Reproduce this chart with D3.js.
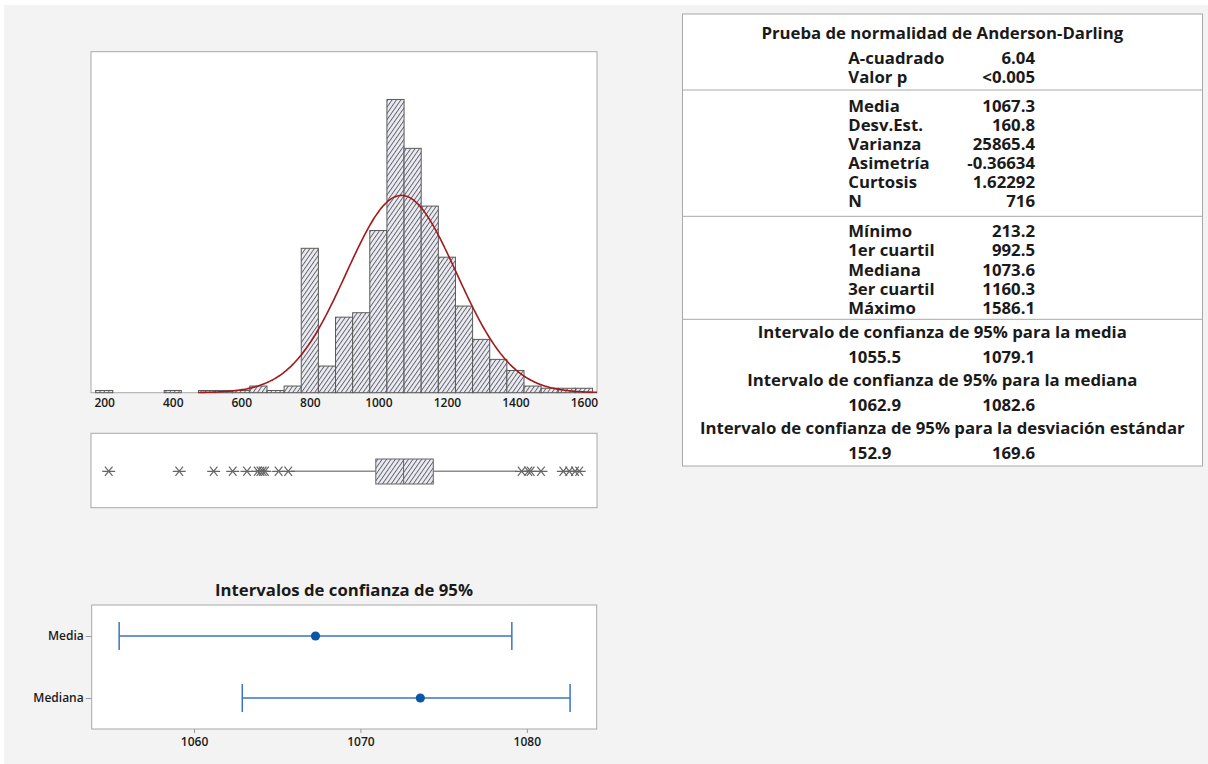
<!DOCTYPE html>
<html><head><meta charset="utf-8">
<script src="https://cdn.jsdelivr.net/npm/d3@7"></script>
<style>
body{margin:0;background:#fff}
svg{display:block}
text{font-family:"Open Sans","Noto Sans",sans-serif;fill:#1a1a1a}
</style>
</head><body>
<svg id="c" width="1208" height="764"></svg>
<script>
// ---------- DATA ----------
const binCenters = [200,250,300,350,400,450,500,550,600,650,700,750,800,850,900,950,1000,1050,1100,1150,1200,1250,1300,1350,1400,1450,1500,1550,1600];
const binCounts  = [1,0,0,0,1,0,1,1,1,3,1,3,65,12,34,36,73,132,110,84,61,39,24,15,10,3,2,2,2];
const binWidth = 50;
const histTicks = [200,400,600,800,1000,1200,1400,1600];
const fitMean = 1067.3, fitSd = 160.8, sampleN = 716;

const boxQuartiles = [992.5, 1073.6, 1160.3];
const boxWhiskers  = [745, 1404];
const lowOutliers  = [213.2, 419, 519.5, 575, 616.7, 648, 656, 662.5, 669, 709, 737];
const highOutliers = [1418, 1437.5, 1444.5, 1474.5, 1539.7, 1557, 1574, 1586.1];

const ciTitle = "Intervalos de confianza de 95%";
const ciRows  = ["Media","Mediana"];
const ciLow   = [1055.5, 1062.9];
const ciHigh  = [1079.1, 1082.6];
const ciPoint = [1067.3, 1073.6];
const ciTicks = [1060,1070,1080];

const tblTitle = "Prueba de normalidad de Anderson-Darling";
const adLabels = ["A-cuadrado","Valor p"];
const adValues = ["6.04","<0.005"];
const momLabels = ["Media","Desv.Est.","Varianza","Asimetría","Curtosis","N"];
const momValues = ["1067.3","160.8","25865.4","-0.36634","1.62292","716"];
const qLabels = ["Mínimo","1er cuartil","Mediana","3er cuartil","Máximo"];
const qValues = ["213.2","992.5","1073.6","1160.3","1586.1"];
const ciTblTitles = ["Intervalo de confianza de 95% para la media","Intervalo de confianza de 95% para la mediana","Intervalo de confianza de 95% para la desviación estándar"];
const ciTblLow  = ["1055.5","1062.9","152.9"];
const ciTblHigh = ["1079.1","1082.6","169.6"];

// ---------- SETUP ----------
const svg = d3.select("#c");
svg.append("rect").attr("x",4).attr("y",5).attr("width",1204).attr("height",759).attr("fill","#f3f3f3");

const defs = svg.append("defs");
const pat = defs.append("pattern").attr("id","hatch").attr("patternUnits","userSpaceOnUse")
  .attr("width",3.6).attr("height",10).attr("patternTransform","rotate(35)");
pat.append("rect").attr("width",3.6).attr("height",10).attr("fill","#ebebf6");
pat.append("line").attr("x1",0.5).attr("y1",0).attr("x2",0.5).attr("y2",10).attr("stroke","#555").attr("stroke-width",0.9);

const frame = "#a8a8a8";
function panel(x,y,w,h){
  svg.append("rect").attr("x",x).attr("y",y).attr("width",w).attr("height",h)
    .attr("fill","#fff").attr("stroke",frame).attr("stroke-width",1);
}

// ---------- HISTOGRAM ----------
const hx = d3.scaleLinear().domain([161.5,1638]).range([91,597]);
const hy = d3.scaleLinear().domain([0,153.5]).range([392.7,51.7]);
panel(91,51.7,506,341);
const hg = svg.append("g");
const bins = binCenters.map((c,i)=>({c, n:binCounts[i]})).filter(d=>d.n>0);
hg.selectAll("rect.bar").data(bins).join("rect").attr("class","bar")
  .attr("x",d=>hx(d.c-binWidth/2)).attr("width",d=>hx(d.c+binWidth/2)-hx(d.c-binWidth/2))
  .attr("y",d=>hy(d.n)).attr("height",d=>hy(0)-hy(d.n))
  .attr("fill","url(#hatch)").attr("stroke","#5a5a5a").attr("stroke-width",1);

// fitted normal curve (from the reported mean / st.dev.)
const curvePts = d3.range(475,1640,4).map(v=>{
  const z=(v-fitMean)/fitSd;
  return [v, sampleN*binWidth*Math.exp(-0.5*z*z)/(fitSd*Math.sqrt(2*Math.PI))];
});
defs.append("clipPath").attr("id","hclip").append("rect").attr("x",91).attr("y",51.7).attr("width",506).attr("height",342);
hg.append("path").datum(curvePts).attr("clip-path","url(#hclip)")
  .attr("d",d3.line().x(d=>hx(d[0])).y(d=>hy(d[1])).curve(d3.curveBasis))
  .attr("fill","none").attr("stroke","#a01a1a").attr("stroke-width",1.6);

const hax = svg.append("g").attr("transform","translate(0,392.7)")
  .call(d3.axisBottom(hx).tickValues(histTicks).tickSize(0).tickPadding(6).tickFormat(d3.format("d")));
hax.select(".domain").remove();
hax.selectAll("text").style("font-size","12px").style("font-weight",600).attr("fill","#222");

// ---------- BOXPLOT ----------
panel(91,433.3,506,74.4);
const bg = svg.append("g");
const by = 471.3;
bg.append("line").attr("x1",hx(boxWhiskers[0])).attr("x2",hx(boxQuartiles[0])).attr("y1",by).attr("y2",by).attr("stroke","#8c8c8c").attr("stroke-width",1.4);
bg.append("line").attr("x1",hx(boxQuartiles[2])).attr("x2",hx(boxWhiskers[1])).attr("y1",by).attr("y2",by).attr("stroke","#8c8c8c").attr("stroke-width",1.4);
bg.append("rect").attr("x",hx(boxQuartiles[0])).attr("width",hx(boxQuartiles[2])-hx(boxQuartiles[0]))
  .attr("y",459).attr("height",25).attr("fill","url(#hatch)").attr("stroke","#666").attr("stroke-width",1);
bg.append("line").attr("x1",hx(boxQuartiles[1])).attr("x2",hx(boxQuartiles[1])).attr("y1",459).attr("y2",484).attr("stroke","#666").attr("stroke-width",1);
const star = "M-6.5,0H6.5M-3.8,-4.6L3.8,4.6M-3.8,4.6L3.8,-4.6";
bg.selectAll("path.out").data(lowOutliers.concat(highOutliers)).join("path").attr("class","out")
  .attr("d",star).attr("transform",d=>`translate(${hx(d)},${by})`)
  .attr("fill","none").attr("stroke","#666").attr("stroke-width",1.2);

// ---------- CI PLOT ----------
const cx = d3.scaleLinear().domain([1053.85,1084.2]).range([91.7,596.7]);
const cy = d3.scalePoint().domain(ciRows).range([605,729]).padding(0.5);
panel(91.7,605,505,124);
const ct = svg.append("text").attr("x",344).attr("y",590).attr("dy","0.35em").attr("text-anchor","middle")
  .style("font-weight",700).style("font-size","15px").text(ciTitle);
const cw = ct.node().getComputedTextLength();
ct.style("font-size",(15*258/cw)+"px");

const cax = svg.append("g").attr("transform","translate(0,729)")
  .call(d3.axisBottom(cx).tickValues(ciTicks).tickSize(4).tickPadding(4).tickFormat(d3.format("d")));
cax.select(".domain").remove();
cax.selectAll("line").attr("stroke","#999");
cax.selectAll("text").style("font-size","12px").style("font-weight",600).attr("fill","#222");
const cay = svg.append("g").attr("transform","translate(91.7,0)")
  .call(d3.axisLeft(cy).tickSize(6).tickPadding(2));
cay.select(".domain").remove();
cay.selectAll("line").attr("stroke","#999");
cay.selectAll("text").style("font-size","12px").style("font-weight",600).attr("fill","#222");

const blue = "#3a74c0";
const cg = svg.append("g");
ciRows.forEach((r,i)=>{
  const y = cy(r);
  cg.append("line").attr("x1",cx(ciLow[i])).attr("x2",cx(ciHigh[i])).attr("y1",y).attr("y2",y).attr("stroke",blue).attr("stroke-width",1.5);
  [ciLow[i],ciHigh[i]].forEach(v=>{
    cg.append("line").attr("x1",cx(v)).attr("x2",cx(v)).attr("y1",y-14).attr("y2",y+14).attr("stroke",blue).attr("stroke-width",1.5);
  });
  cg.append("circle").attr("cx",cx(ciPoint[i])).attr("cy",y).attr("r",4.6).attr("fill","#0b56a8");
});

// ---------- TABLE ----------
const tL=682.5, tR=1202.5, tT=14, tB=466;
svg.append("rect").attr("x",tL).attr("y",tT).attr("width",tR-tL).attr("height",tB-tT).attr("fill","#fff").attr("stroke",frame);
[90,216.3,319.3].forEach(y=>svg.append("line").attr("x1",tL).attr("x2",tR).attr("y1",y).attr("y2",y).attr("stroke",frame));
const tg = svg.append("g").style("font-weight",700);
const tt = tg.append("text").attr("x",942.3).attr("y",32.7).attr("dy","0.35em").attr("text-anchor","middle").style("font-size","15px").text(tblTitle);
const tw = tt.node().getComputedTextLength();
const fs = 15*362/tw;
tt.style("font-size",fs+"px");
const colL = 848.3, colR = 1035;
function rows(labels, values, y0, step){
  labels.forEach((l,i)=>{
    tg.append("text").attr("x",colL).attr("y",y0+i*step).attr("dy","0.35em").style("font-size",fs+"px").text(l);
    tg.append("text").attr("x",colR).attr("y",y0+i*step).attr("dy","0.35em").attr("text-anchor","end").style("font-size",fs+"px").text(values[i]);
  });
}
rows(adLabels, adValues, 57.7, 19);
rows(momLabels, momValues, 105.7, 19.1);
rows(qLabels, qValues, 231.3, 19.25);
ciTblTitles.forEach((t,i)=>{
  const y = 332.3 + i*48;
  tg.append("text").attr("x",942.3).attr("y",y).attr("dy","0.35em").attr("text-anchor","middle").style("font-size",fs+"px").text(t);
  tg.append("text").attr("x",colL).attr("y",y+24.5).attr("dy","0.35em").style("font-size",fs+"px").text(ciTblLow[i]);
  tg.append("text").attr("x",colR).attr("y",y+24.5).attr("dy","0.35em").attr("text-anchor","end").style("font-size",fs+"px").text(ciTblHigh[i]);
});
</script>
</body></html>
